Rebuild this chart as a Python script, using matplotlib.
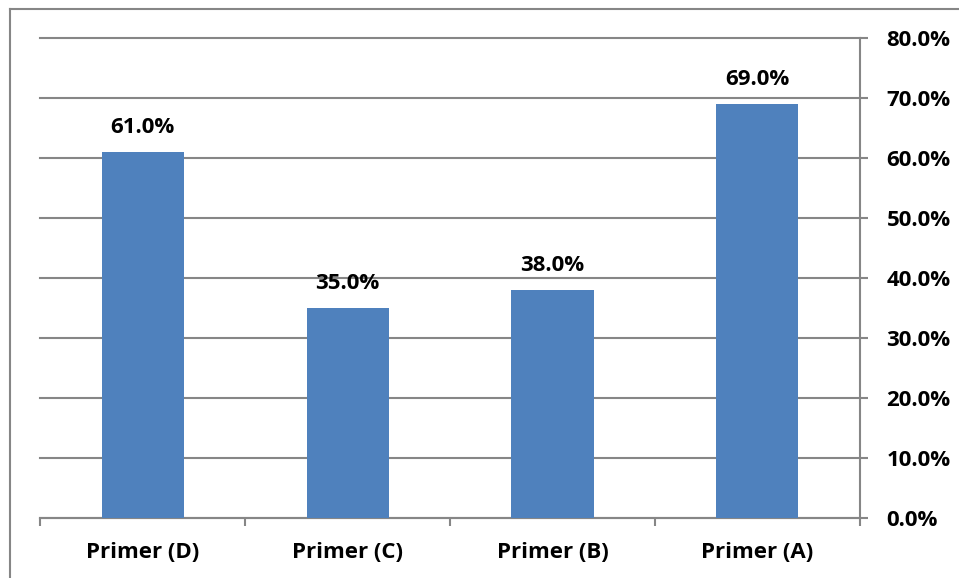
import matplotlib
matplotlib.use("Agg")
import matplotlib.pyplot as plt
from matplotlib.lines import Line2D
from matplotlib.ticker import FuncFormatter, MultipleLocator

categories = ["Primer (D)", "Primer (C)", "Primer (B)", "Primer (A)"]
values = [61.0, 35.0, 38.0, 69.0]

plt.rcParams['font.family'] = ['Open Sans', 'DejaVu Sans']
FS = 16

fig = plt.figure(figsize=(9.59, 5.78), dpi=100)
ax = fig.add_axes([40/959, 60/578, 820/959, 480/578])

x = range(len(categories))
ax.bar(x, values, width=0.4, color="#4F81BD", zorder=3)
for xi, v in zip(x, values):
    ax.text(xi, v + 3.2, f"{v:.1f}%", ha="center", va="baseline",
            fontsize=FS, fontweight="bold", color="black")

ax.set_xlim(-0.5, len(categories) - 0.5)
ax.set_ylim(0, 80)
ax.yaxis.set_major_locator(MultipleLocator(10))
ax.yaxis.set_major_formatter(FuncFormatter(lambda v, p: f"{v:.1f}%"))
ax.yaxis.tick_right()
ax.grid(axis="y", color="#868686", linewidth=1.5, zorder=0)
for gl in ax.get_ygridlines():
    gl.set_clip_on(False)

for s in ["top", "left"]:
    ax.spines[s].set_visible(False)
for s in ["bottom", "right"]:
    ax.spines[s].set_color("#868686")
    ax.spines[s].set_linewidth(1.5)

ax.set_xticks([i - 0.5 for i in range(len(categories) + 1)], minor=False)
ax.set_xticklabels([])
ax.set_xticks(list(x), minor=True)
ax.set_xticklabels(categories, minor=True)
ax.tick_params(axis="x", which="major", length=6, width=1.5, color="#868686", direction="out")
ax.tick_params(axis="x", which="minor", length=0, pad=17, labelsize=FS)
ax.tick_params(axis="y", length=6, width=1.5, color="#868686", direction="out", pad=13, labelsize=FS)
for lab in ax.get_xticklabels(minor=True) + ax.get_yticklabels():
    lab.set_fontweight("bold")

fig.add_artist(Line2D([9.5/959, 9.5/959], [0, 1 - 8.5/578], transform=fig.transFigure, color="#868686", linewidth=1.5))
fig.add_artist(Line2D([9.5/959, 1], [1 - 8.5/578, 1 - 8.5/578], transform=fig.transFigure, color="#868686", linewidth=1.5))

fig.savefig("out.png", dpi=100)
